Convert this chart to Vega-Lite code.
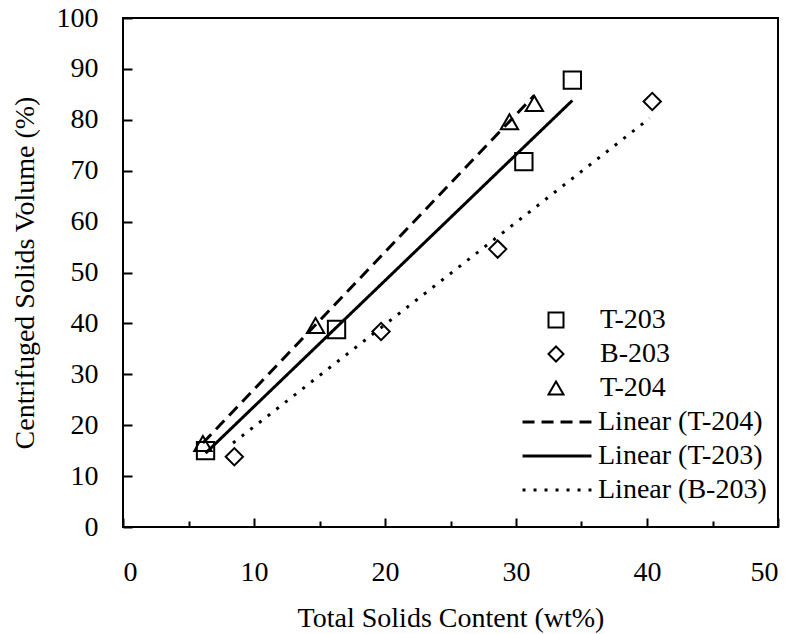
{
  "$schema": "https://vega.github.io/schema/vega-lite/v6.json",
  "width": 655,
  "height": 509,
  "autosize": {"type": "none"},
  "padding": {"left": 123, "top": 18, "right": 17, "bottom": 107},
  "background": "white",
  "config": {
    "view": {"stroke": "black", "strokeWidth": 2},
    "font": "Liberation Serif",
    "axis": {"labelFont": "Liberation Serif", "titleFont": "Liberation Serif", "labelFontSize": 28, "titleFontSize": 28, "titleFontWeight": "normal", "labelColor": "black", "titleColor": "black", "grid": false, "domain": false, "tickColor": "black", "tickWidth": 2},
    "legend": {"labelFont": "Liberation Serif", "labelFontSize": 28, "labelColor": "black", "padding": 0, "labelLimit": 0}
  },
  "datasets": {
    "pts": [
      {"x": 6.3, "y": 15.0, "series": "T-203"},
      {"x": 16.3, "y": 38.8, "series": "T-203"},
      {"x": 30.6, "y": 71.8, "series": "T-203"},
      {"x": 34.3, "y": 87.8, "series": "T-203"},
      {"x": 8.5, "y": 13.8, "series": "B-203"},
      {"x": 19.7, "y": 38.4, "series": "B-203"},
      {"x": 28.6, "y": 54.6, "series": "B-203"},
      {"x": 40.4, "y": 83.6, "series": "B-203"},
      {"x": 6.1, "y": 16.4, "series": "T-204"},
      {"x": 14.7, "y": 39.6, "series": "T-204"},
      {"x": 29.5, "y": 79.6, "series": "T-204"},
      {"x": 31.4, "y": 83.2, "series": "T-204"}
    ],
    "fits": [
      {"x": 6.1, "y": 16.5, "fit": "Linear (T-204)"},
      {"x": 31.4, "y": 84.8, "fit": "Linear (T-204)"},
      {"x": 6.3, "y": 14.5, "fit": "Linear (T-203)"},
      {"x": 34.3, "y": 83.8, "fit": "Linear (T-203)"},
      {"x": 8.4, "y": 16.5, "fit": "Linear (B-203)"},
      {"x": 40.2, "y": 80.3, "fit": "Linear (B-203)"}
    ]
  },
  "layer": [
    {
      "data": {"name": "fits"},
      "mark": {"type": "line", "color": "black", "strokeWidth": 3},
      "encoding": {
        "x": {"field": "x", "type": "quantitative", "scale": {"domain": [0, 50], "nice": false},
          "axis": {"title": "Total Solids Content (wt%)", "values": [0, 5, 10, 15, 20, 25, 30, 35, 40, 45, 50], "labelExpr": "datum.value % 10 === 0 ? datum.label : ''", "tickSize": {"condition": {"test": "datum.value % 10 === 0", "value": -9}, "value": -6}, "labelPadding": 40, "titlePadding": 18}},
        "y": {"field": "y", "type": "quantitative", "scale": {"domain": [0, 100], "nice": false},
          "axis": {"title": "Centrifuged Solids Volume (%)", "values": [0, 10, 20, 30, 40, 50, 60, 70, 80, 90, 100], "tickSize": -9, "labelPadding": 34, "titlePadding": 17}},
        "strokeDash": {"field": "fit", "type": "nominal",
          "scale": {"domain": ["Linear (T-204)", "Linear (T-203)", "Linear (B-203)"], "range": [[12, 7], [1, 0], [3, 8]]},
          "legend": {"title": null, "orient": "none", "legendX": 420, "legendY": 390, "symbolType": "M-3.5,0H3.5", "symbolSize": 388, "symbolStrokeWidth": 3, "symbolStrokeColor": "black", "labelOffset": 27, "rowPadding": 6}},
        "detail": {"field": "fit"}
      }
    },
    {
      "data": {"name": "pts"},
      "mark": {"type": "point", "filled": false, "color": "black", "strokeWidth": 2, "size": 300, "opacity": 1},
      "encoding": {
        "x": {"field": "x", "type": "quantitative"},
        "y": {"field": "y", "type": "quantitative"},
        "shape": {"field": "series", "type": "nominal",
          "scale": {"domain": ["T-203", "B-203", "T-204"], "range": ["square", "diamond", "triangle-up"]},
          "legend": {"title": null, "orient": "none", "legendX": 419, "legendY": 288, "symbolSize": 225, "symbolStrokeWidth": 2, "symbolStrokeColor": "black", "symbolFillColor": "transparent", "labelOffset": 30, "rowPadding": 6}}
      }
    }
  ]
}
